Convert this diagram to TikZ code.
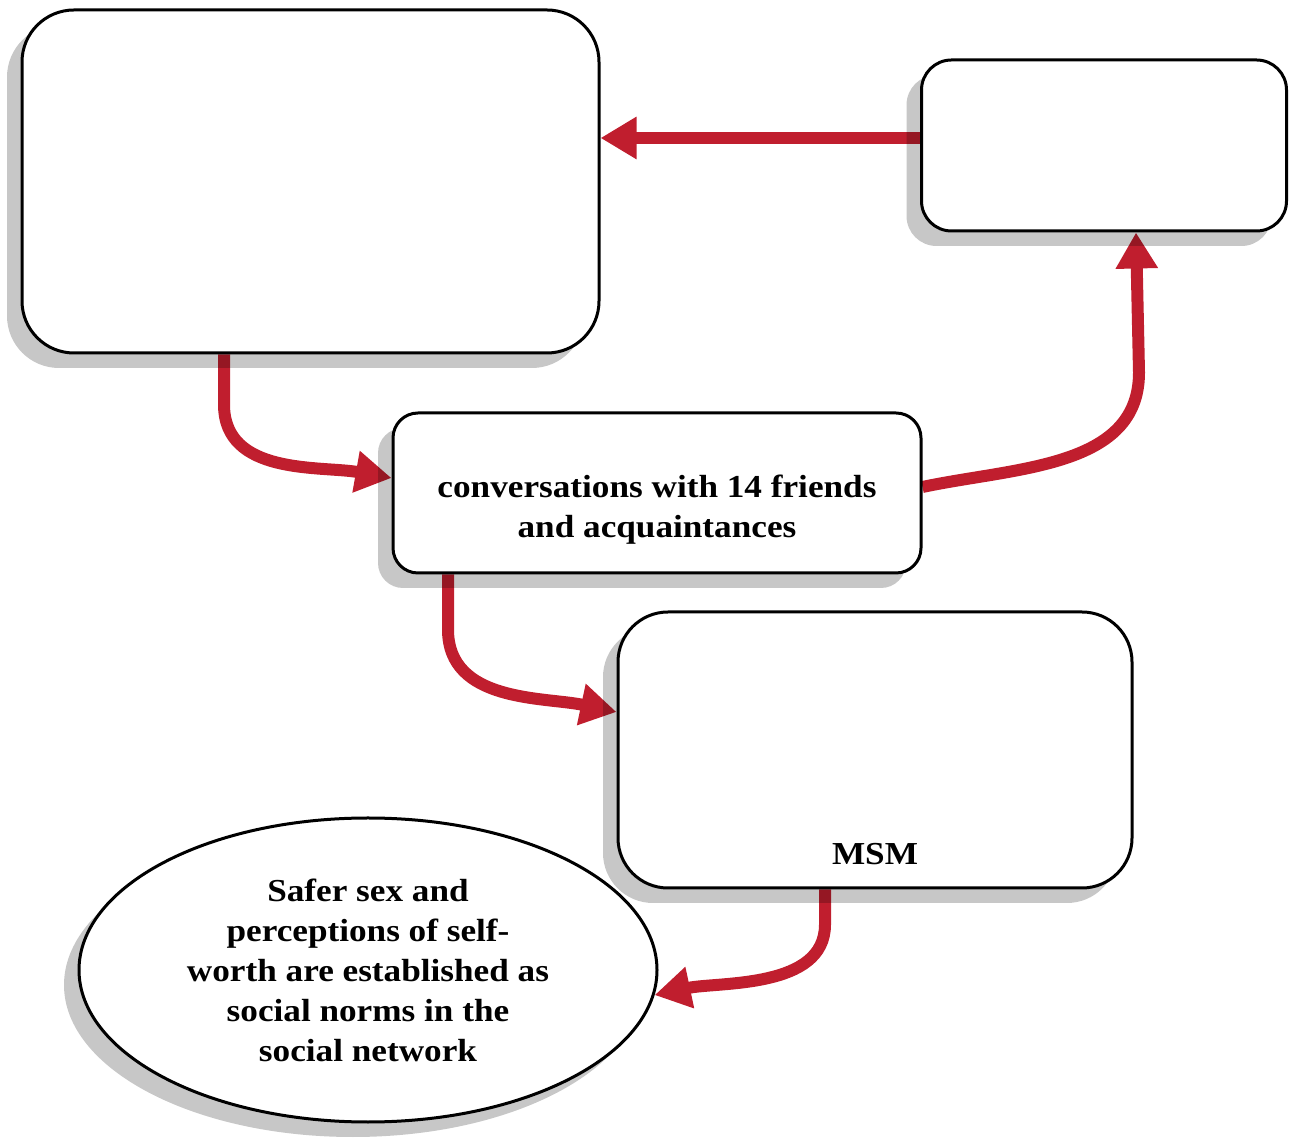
\documentclass[tikz,border=0pt]{standalone}
\usepackage{fontspec}
\setmainfont[FakeStretch=1.1]{Liberation Serif}
\usetikzlibrary{arrows.meta,shadows,shapes.geometric,calc}
\definecolor{arrred}{RGB}{192,30,46}
\pgfdeclarelayer{background}
\pgfsetlayers{background,main}
\begin{document}
\begin{tikzpicture}[x=1pt,y=1pt,
  shad/.style={drop shadow={shadow xshift=-15pt,shadow yshift=-15pt,fill=black,opacity=0.22}},
  boxnode/.style={draw=black,line width=3pt,fill=white,inner sep=0pt,shad},
  ellnode/.style={ellipse,draw=black,line width=3pt,fill=white,inner sep=0pt,shad,
    font=\bfseries\fontsize{32}{40}\selectfont,align=center},
  lbl/.style={font=\bfseries\fontsize{32}{40}\selectfont,align=center,inner sep=0pt},
  arr/.style={draw=arrred,line width=12pt,-{Triangle[length=36pt,width=40pt]},arrred}
]
\useasboundingbox (0,0) rectangle (1289,1137);
\node[boxnode,rounded corners=52pt,minimum width=577pt,minimum height=343pt] (A) at (310.5,955.5) {};
\node[boxnode,rounded corners=30pt,minimum width=365pt,minimum height=171pt] (B) at (1104,991.5) {};
\node[boxnode,rounded corners=25pt,minimum width=528pt,minimum height=160pt] (C) at (657,644) {};
\node[lbl] (ctext) at ([yshift=-17pt]C.center) {conversations with 14 friends\\and acquaintances};
\node[boxnode,rounded corners=50pt,minimum width=514pt,minimum height=276pt] (D) at (875,387) {};
\node[lbl] (msm) at ([yshift=35pt]D.south) {MSM};
\node[ellnode,minimum width=578pt,minimum height=304pt] (E) at (368,167)
  {Safer sex and\\perceptions of self-\\worth are established as\\social norms in the\\social network};
\begin{pgfonlayer}{background}
\draw[arr] ([yshift=7.5pt]B.west) -- ([yshift=7.5pt]B.west -| A.east);
\draw[arr] ([xshift=-86.5pt]A.south) -- ++(0,-50) to[out=-90,in=170] ([yshift=15pt]C.west);
\draw[arr] ([yshift=6pt]C.east) to[out=12,in=-90] ([xshift=35pt,yshift=-140pt]B.south) -- ([xshift=32pt]B.south);
\draw[arr] ([xshift=-209pt]C.south) -- ++(0,-55) to[out=-90,in=168] ([yshift=38pt]D.west);
\draw[arr] ([xshift=-50pt]D.south) -- ++(0,-35) to[out=-90,in=12,looseness=0.9] (E.355);
\end{pgfonlayer}
\end{tikzpicture}
\end{document}
